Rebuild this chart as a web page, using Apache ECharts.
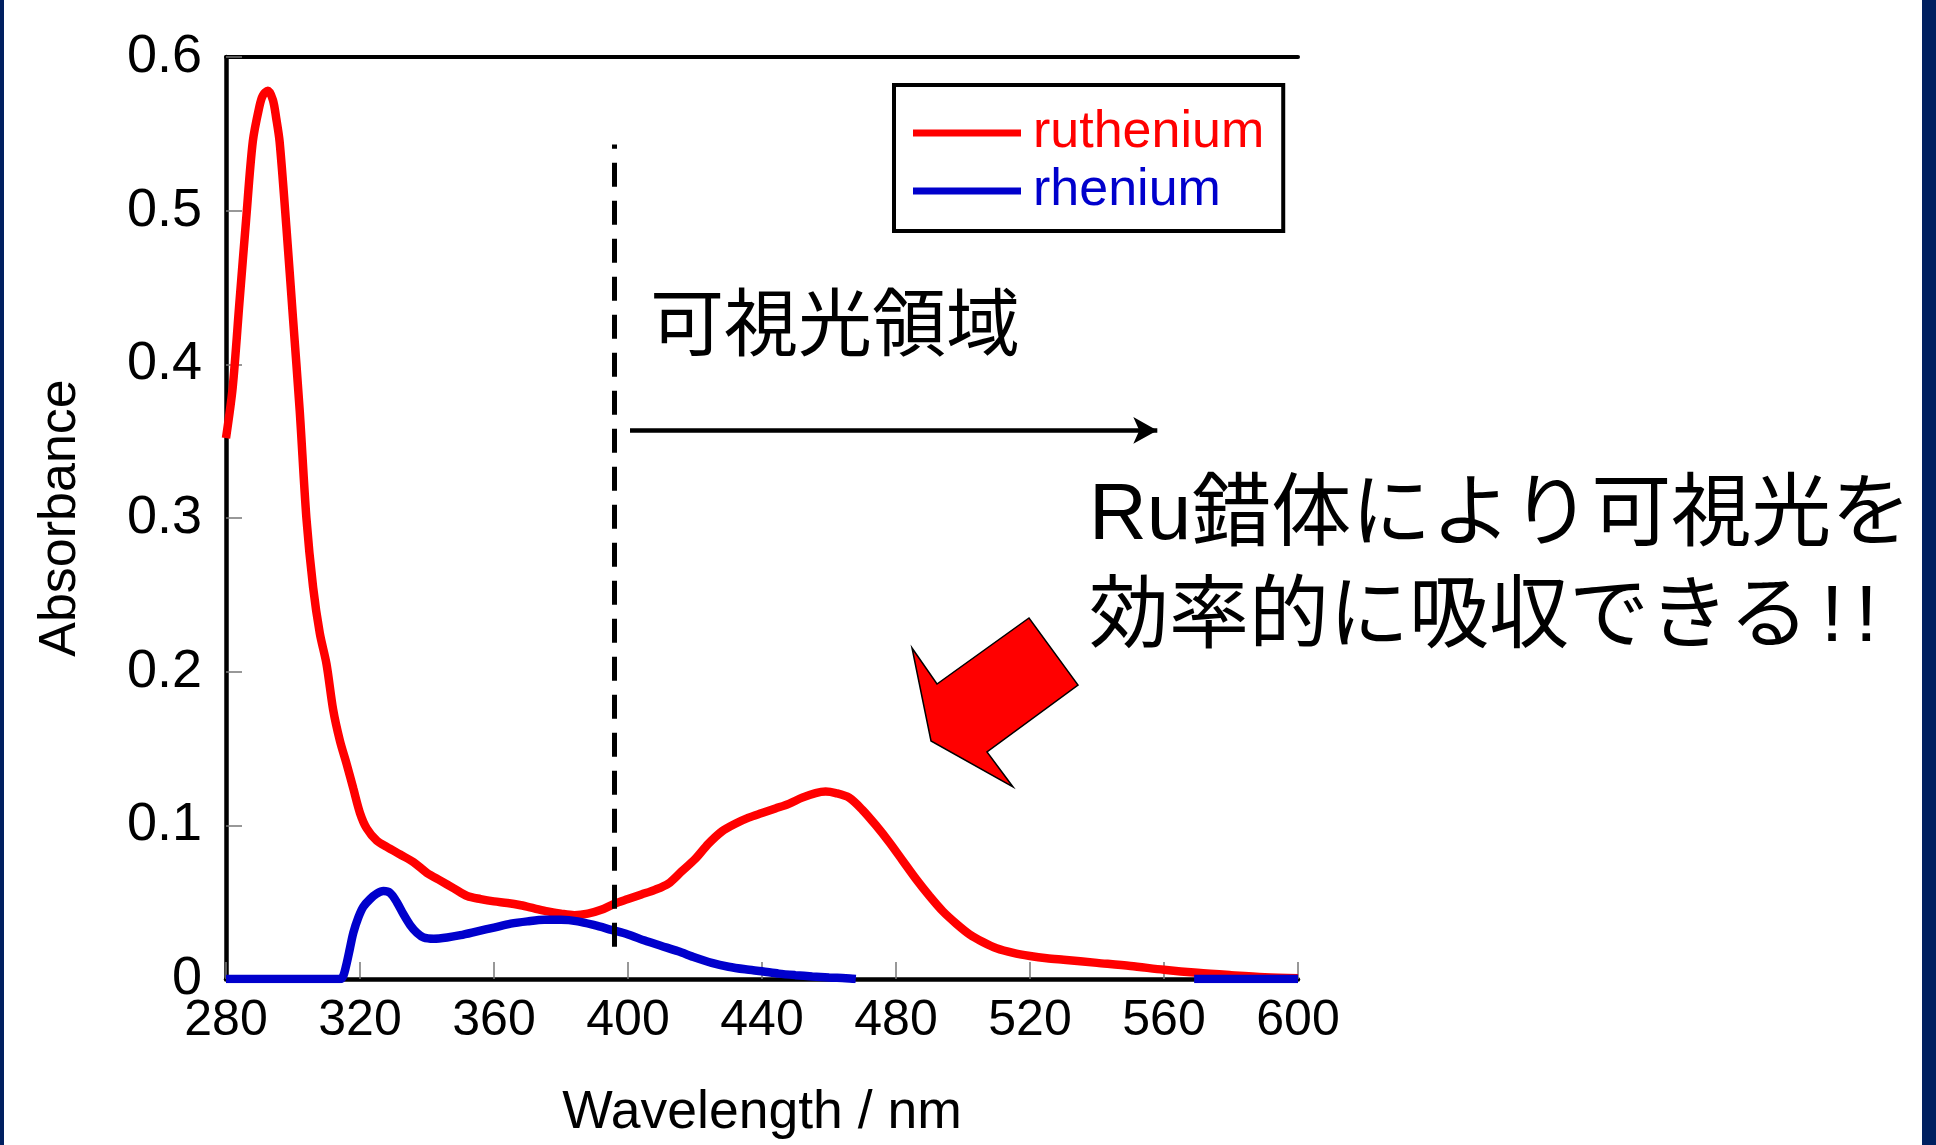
<!DOCTYPE html>
<html><head><meta charset="utf-8">
<script src="https://cdn.jsdelivr.net/npm/echarts@6/dist/echarts.min.js"></script>
<style>html,body{margin:0;padding:0;background:#fff;overflow:hidden}#c{width:1936px;height:1145px}</style>
</head><body><div id="c"></div>
<script>
// ---- data ----
const ruWavelength = [280,282,284,286,288,290,291,292.5,294,295,296,298,300,302,304,306,308,310,312,314,316,318,320,322,325,328,332,336,340,344,348,352,356,360,364,368,372,376,380,384,388,392,396,400,404,408,412,416,420,424,428,432,436,440,444,448,452,456,459,462,466,470,474,478,482,486,490,494,498,502,506,510,515,520,525,530,540,550,560,570,580,590,600];
const ruAbsorbance = [0.352,0.385,0.44,0.494,0.545,0.568,0.575,0.578,0.572,0.56,0.545,0.49,0.43,0.37,0.30,0.255,0.225,0.205,0.175,0.155,0.14,0.124,0.108,0.098,0.090,0.086,0.081,0.076,0.069,0.064,0.059,0.054,0.052,0.0505,0.0495,0.048,0.046,0.044,0.0425,0.0415,0.0425,0.045,0.049,0.052,0.055,0.058,0.062,0.070,0.078,0.088,0.096,0.101,0.105,0.108,0.111,0.114,0.118,0.121,0.122,0.121,0.118,0.110,0.100,0.089,0.077,0.065,0.054,0.044,0.036,0.029,0.024,0.020,0.017,0.015,0.0135,0.0125,0.0105,0.0085,0.006,0.004,0.0025,0.0012,0.0005];
const reWavelength = [280,300,314,315,316,317,318,319.5,321,323,325,327,329,331,333,335,337,339,342,346,350,355,360,365,370,375,380,385,390,395,400,405,410,415,420,425,430,435,440,445,450,455,460,465,468,520,569,600];
const reAbsorbance = [0,0,0,0.002,0.010,0.020,0.030,0.040,0.047,0.052,0.0555,0.0572,0.056,0.050,0.042,0.035,0.030,0.027,0.0262,0.027,0.0285,0.031,0.0335,0.036,0.0375,0.0385,0.0385,0.0375,0.035,0.032,0.029,0.025,0.0215,0.018,0.014,0.0105,0.008,0.0063,0.005,0.0035,0.0025,0.0017,0.001,0.0005,0,null,0,0];
const xTickLabels = ['280','320','360','400','440','480','520','560','600'];
const yTickLabels = ['0','0.1','0.2','0.3','0.4','0.5','0.6'];
const seriesNames = ['ruthenium','rhenium'];
const visibleLimit = [396, 0.021, 0.543];      // dashed boundary line (nm, from, to)
const visibleArrow = [400.6, 558, 0.357];      // arrow (from nm, to nm, absorbance)
const regionLabel = '可視光領域';
const noteLine1 = 'Ru錯体により可視光を';
const noteLine2 = ['効率的に吸収できる', '!', '!'];

const RED = '#ff0000', BLUE = '#0000cc';
const LATIN = '"Liberation Sans", Arial, sans-serif';
const CJK = '"Liberation Sans", "Noto Sans CJK JP", sans-serif';

const ruData = ruWavelength.map((x, i) => [x, ruAbsorbance[i]]);
const reData = reWavelength.map((x, i) => [x, reAbsorbance[i] === null ? '-' : reAbsorbance[i]]);

const chart = echarts.init(document.getElementById('c'), null, {renderer: 'canvas'});
const xMin = +xTickLabels[0], xMax = +xTickLabels[xTickLabels.length - 1];
const xStep = +xTickLabels[1] - +xTickLabels[0];
const yMax = +yTickLabels[yTickLabels.length - 1];

chart.setOption({
  backgroundColor: '#ffffff',
  animation: false,
  grid: {left: 226, right: 638, top: 57, bottom: 164, containLabel: false},
  legend: {
    orient: 'vertical',
    left: 894, top: 85,
    padding: [22, 19, 14, 19],
    itemGap: 6,
    itemWidth: 108, itemHeight: 7,
    icon: 'rect',
    borderColor: '#000', borderWidth: 4,
    backgroundColor: '#fff',
    selectedMode: false,
    textStyle: {fontFamily: LATIN, fontSize: 52, padding: [0, 0, 0, 7]},
    data: [
      {name: seriesNames[0], textStyle: {color: RED}},
      {name: seriesNames[1], textStyle: {color: BLUE}}
    ]
  },
  xAxis: [{
    type: 'value', min: xMin, max: xMax, interval: xStep,
    position: 'bottom',
    name: 'Wavelength / nm', nameLocation: 'middle', nameGap: 107,
    nameTextStyle: {fontFamily: LATIN, fontSize: 53.5, color: '#000'},
    axisLine: {show: true, onZero: false, lineStyle: {color: '#000', width: 4.5}},
    axisTick: {show: true, inside: true, length: 17, lineStyle: {color: '#777', width: 1.5}},
    axisLabel: {show: true, margin: 17, fontFamily: LATIN, fontSize: 50, color: '#000',
      formatter: v => xTickLabels[Math.round((v - xMin) / xStep)] || ''},
    splitLine: {show: false}
  }, {
    type: 'value', min: xMin, max: xMax, position: 'top',
    axisLine: {show: true, onZero: false, lineStyle: {color: '#000', width: 4}},
    axisTick: {show: false}, axisLabel: {show: false}, splitLine: {show: false}
  }],
  yAxis: {
    type: 'value', min: 0, max: yMax, interval: 0.1,
    name: 'Absorbance', nameLocation: 'middle', nameGap: 139, nameRotate: 90,
    nameTextStyle: {fontFamily: LATIN, fontSize: 52, color: '#000'},
    axisLine: {show: true, onZero: false, lineStyle: {color: '#000', width: 4.5}},
    axisTick: {show: true, inside: true, length: 16, lineStyle: {color: '#777', width: 1.5}},
    axisLabel: {show: true, margin: 24, fontFamily: LATIN, fontSize: 54, color: '#000',
      formatter: v => yTickLabels[Math.round(v * 10)] || ''},
    splitLine: {show: false}
  },
  series: [{
    name: seriesNames[0], type: 'line', data: ruData, xAxisIndex: 0,
    showSymbol: false, symbol: 'none', smooth: 0.3, z: 3,
    color: RED, lineStyle: {color: RED, width: 8.5},
    markLine: {
      silent: true, animation: false,
      label: {show: false},
      emphasis: {disabled: true},
      data: [
        [{coord: [visibleLimit[0], visibleLimit[1]], symbol: 'none', lineStyle: {color: '#000', width: 5, type: [24, 14]}},
         {coord: [visibleLimit[0], visibleLimit[2]], symbol: 'none'}],
        [{coord: [visibleArrow[0], visibleArrow[2]], symbol: 'none', lineStyle: {color: '#000', width: 4.5, type: 'solid'}},
         {coord: [visibleArrow[1], visibleArrow[2]], symbol: 'arrow', symbolSize: [20, 24]}]
      ]
    }
  }, {
    name: seriesNames[1], type: 'line', data: reData, xAxisIndex: 0,
    showSymbol: false, symbol: 'none', smooth: 0.3, connectNulls: false, z: 4,
    color: BLUE, lineStyle: {color: BLUE, width: 8.5}
  }],
  graphic: [
    {type: 'rect', shape: {x: 0, y: 0, width: 4, height: 1145}, style: {fill: '#002060'}},
    {type: 'rect', shape: {x: 1922, y: 0, width: 14, height: 1145}, style: {fill: '#002060'}},
    {type: 'polygon', shape: {points: [[912,648],[937,684],[1029,618],[1078,685],[987,752],[1013,787],[931,741]]},
     style: {fill: '#ff0000', stroke: '#000', lineWidth: 1.5}},
    {type: 'text', x: 650, y: 330, style: {text: regionLabel, font: '74px ' + CJK, fill: '#000', verticalAlign: 'middle'}},
    {type: 'text', x: 1089, y: 517, style: {text: noteLine1, font: '80px ' + CJK, fill: '#000', verticalAlign: 'middle'}},
    {type: 'text', x: 1089, y: 619, style: {
      text: '{a|' + noteLine2[0] + '}{b|' + noteLine2[1] + '}{b|' + noteLine2[2] + '}',
      font: '80px ' + CJK, fill: '#000', verticalAlign: 'middle',
      rich: {
        a: {fontFamily: CJK, fontSize: 80, fill: '#000'},
        b: {fontFamily: CJK, fontSize: 80, fill: '#000', padding: [0, 0, 0, 12]}
      }
    }}
  ]
});
</script></body></html>
